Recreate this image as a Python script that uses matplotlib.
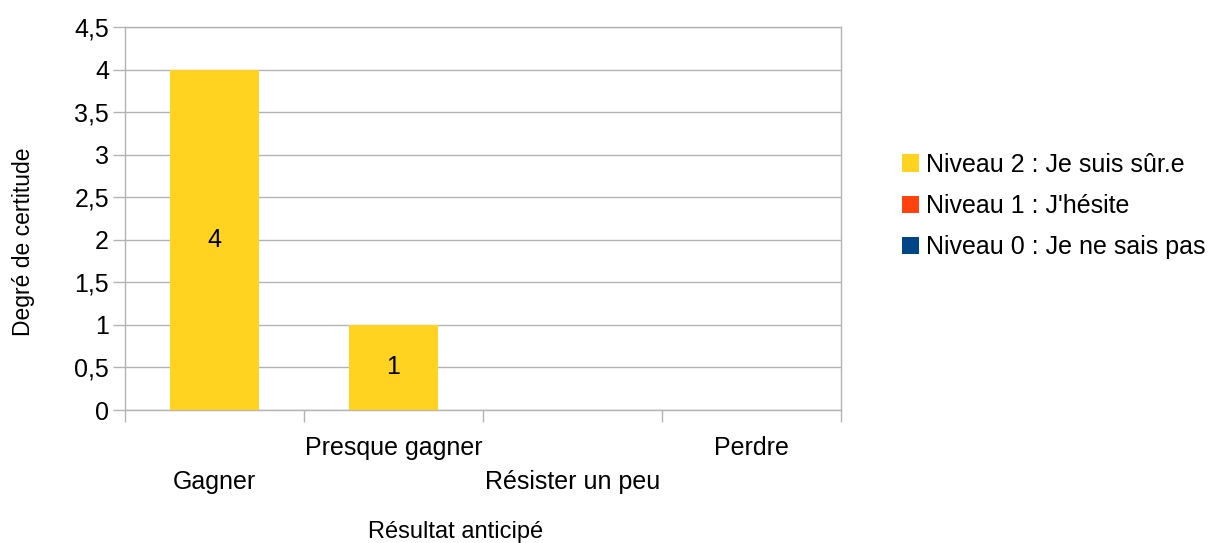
import matplotlib.pyplot as plt
import numpy as np

plt.rcParams['font.family'] = ['Liberation Sans', 'DejaVu Sans']

# data
categories = ["Gagner", "Presque gagner", "Résister un peu", "Perdre"]
niveau_0 = [0, 0, 0, 0]
niveau_1 = [0, 0, 0, 0]
niveau_2 = [4, 1, 0, 0]
y_ticks = [0, 0.5, 1, 1.5, 2, 2.5, 3, 3.5, 4, 4.5]

grey = "#b3b3b3"
fs = 18

fig = plt.figure(figsize=(12.17, 5.43), dpi=100)
ax = fig.add_axes([125 / 1217, 1 - 410 / 543, (841 - 125) / 1217, (410 - 27) / 543])

x = np.arange(len(categories))
b0 = ax.bar(x, niveau_0, width=0.5, color="#004586", label="Niveau 0 : Je ne sais pas", zorder=3)
b1 = ax.bar(x, niveau_1, width=0.5, bottom=niveau_0, color="#ff420e", label="Niveau 1 : J'hésite", zorder=3)
bottom2 = np.array(niveau_0) + np.array(niveau_1)
b2 = ax.bar(x, niveau_2, width=0.5, bottom=bottom2, color="#ffd320", label="Niveau 2 : Je suis sûr.e", zorder=3)

# value labels inside the bars
for rect, v in zip(b2, niveau_2):
    if v > 0:
        ax.text(rect.get_x() + rect.get_width() / 2, rect.get_y() + rect.get_height() / 2,
                str(v), ha="center", va="center", fontsize=fs, zorder=4)

ax.set_xlim(-0.5, len(categories) - 0.5)
ax.set_ylim(0, 4.5)
ax.set_yticks(y_ticks)
ax.set_yticklabels([("%g" % t).replace(".", ",") for t in y_ticks], fontsize=fs)
ax.yaxis.grid(True, color=grey, linewidth=1, zorder=0)
ax.tick_params(axis="y", length=8.6, color=grey, width=1, pad=3)

# category labels at centers, tick marks at boundaries
ax.set_xticks(x)
ax.set_xticklabels(categories, fontsize=fs)
ax.set_xticks(np.arange(len(categories) + 1) - 0.5, minor=True)
ax.tick_params(axis="x", which="major", length=0)
ax.tick_params(axis="x", which="minor", length=8.6, color=grey, width=1)
for i, tick in enumerate(ax.xaxis.get_major_ticks()):
    tick.set_pad(43 if i % 2 == 0 else 19)

for s in ax.spines.values():
    s.set_color(grey)
    s.set_linewidth(1)

ax.set_ylabel("Degré de certitude", fontsize=16.5)
ax.yaxis.set_label_coords(-0.126, 0.439)
ax.set_xlabel("Résultat anticipé", fontsize=17)
ax.xaxis.set_label_coords(0.461, -0.29)

handles = [b2, b1, b0]
fig.legend(handles, [h.get_label() for h in handles], loc="center left",
           bbox_to_anchor=(902 / 1217, 1 - 206 / 543), frameon=False, fontsize=fs,
           handlelength=0.68, handleheight=0.68, handletextpad=0.3, labelspacing=0.69,
           borderpad=0, borderaxespad=0)

fig.savefig("out.png", dpi=100)
